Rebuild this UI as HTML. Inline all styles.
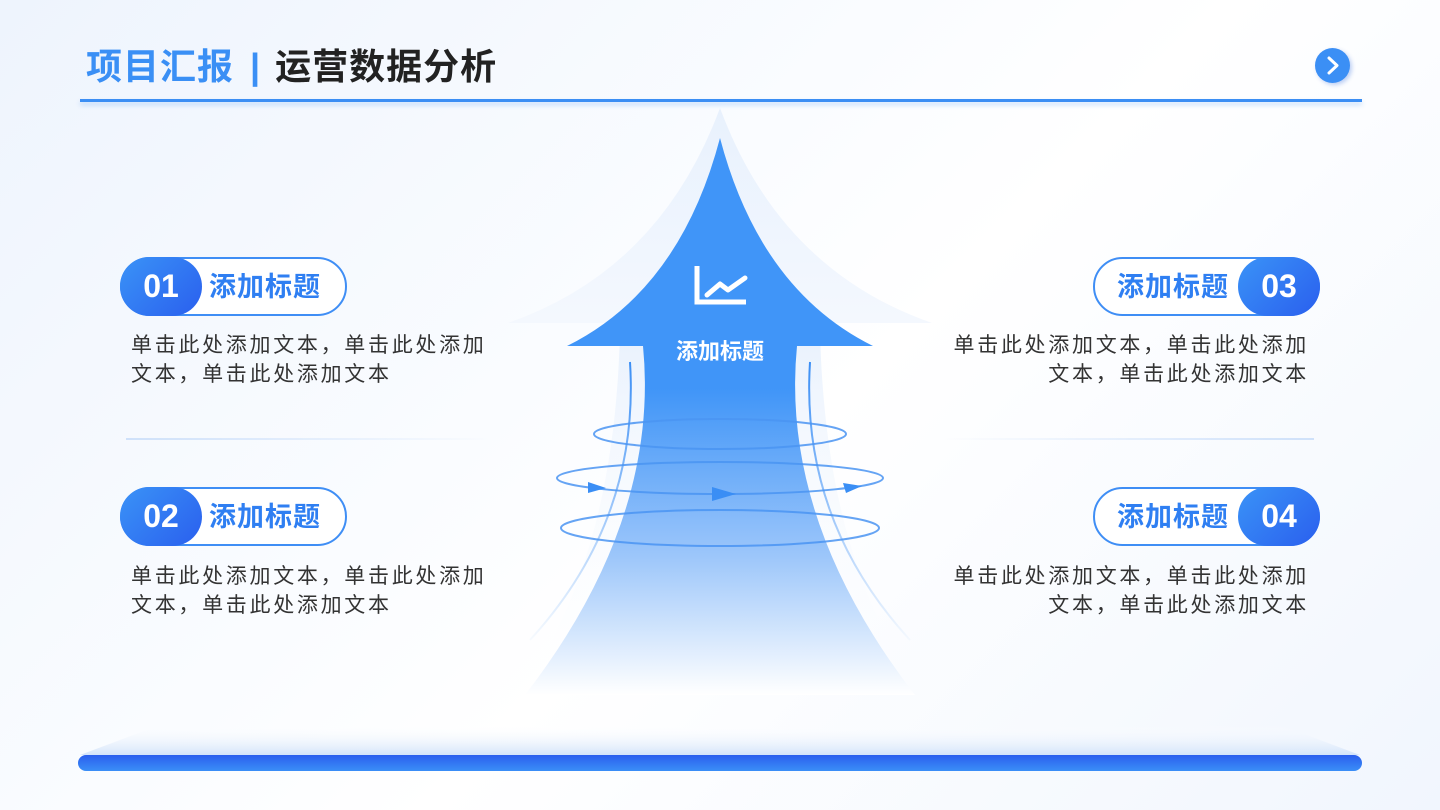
<!DOCTYPE html>
<html><head><meta charset="utf-8"><style>
*{margin:0;padding:0;box-sizing:border-box}
body{width:1440px;height:810px;overflow:hidden;background:linear-gradient(135deg,#eef4fd 0%,#fafcff 40%,#ffffff 55%,#f1f6fe 100%);font-family:"Liberation Sans","Noto Sans CJK SC",sans-serif;position:relative}
.abs{position:absolute}
.title{left:86px;top:44px;font-size:36px;font-weight:bold;letter-spacing:1px;white-space:nowrap;line-height:46px}
.pill{position:absolute;width:227px;height:59px;border:2px solid #3f8ef5;border-radius:30px;background:#fff}
.num{position:absolute;top:-2px;width:82px;height:59px;border-radius:30px;background:linear-gradient(135deg,#3a93f7,#2a5fee);color:#fff;font-size:32px;font-weight:bold;text-align:center;line-height:59px}
.pt{position:absolute;top:0;font-size:27px;font-weight:bold;color:#2f7ff2;line-height:57px;white-space:nowrap;letter-spacing:1px}
.txt{position:absolute;font-size:21px;color:#333;line-height:29px;letter-spacing:2.7px;white-space:nowrap}
</style></head><body>
<div class="abs title"><span style="color:#3a8ff5">项目汇报</span><span style="color:#3a8ff5;margin:0 14px 0 16px">|</span><span style="color:#222">运营数据分析</span></div>
<div class="abs" style="left:80px;top:99px;width:1282px;height:3px;background:#3b8ef4;box-shadow:0 3px 5px rgba(59,142,244,0.3)"></div>
<div class="abs" style="left:1315px;top:48px;width:35px;height:35px;border-radius:50%;background:#3b8ff5;box-shadow:2px 2px 4px rgba(40,100,220,.3)">
<svg width="35" height="35"><path d="M14 10 L22 17.5 L14 25" stroke="#fff" stroke-width="3" fill="none" stroke-linecap="round" stroke-linejoin="round"/></svg></div>

<svg class="abs" style="left:0;top:0" width="1440" height="810">
<defs>
<linearGradient id="sh" x1="0" y1="0" x2="0" y2="1"><stop offset="0" stop-color="#e8f1fd"/><stop offset="1" stop-color="#f4f8fe"/></linearGradient>
<linearGradient id="ar" x1="0" y1="138" x2="0" y2="695" gradientUnits="userSpaceOnUse"><stop offset="0.45" stop-color="#4095f8"/><stop offset="0.75" stop-color="#9cc6fa"/><stop offset="1" stop-color="#ffffff"/></linearGradient>
<linearGradient id="gl" x1="0" y1="340" x2="0" y2="700" gradientUnits="userSpaceOnUse"><stop offset="0" stop-color="#eaf2fd"/><stop offset="1" stop-color="#ffffff" stop-opacity="0"/></linearGradient>
<linearGradient id="ln" x1="0" y1="360" x2="0" y2="650" gradientUnits="userSpaceOnUse"><stop offset="0" stop-color="#3a8ef5"/><stop offset="1" stop-color="#3a8ef5" stop-opacity="0"/></linearGradient>
<linearGradient id="bar" x1="0" y1="0" x2="0" y2="1"><stop offset="0" stop-color="#2a5fee"/><stop offset="1" stop-color="#3a8ff7"/></linearGradient>
<linearGradient id="plat" x1="0" y1="725" x2="0" y2="755" gradientUnits="userSpaceOnUse"><stop offset="0" stop-color="#ffffff" stop-opacity="0"/><stop offset="1" stop-color="#d3e4fa"/></linearGradient>
<linearGradient id="hl" x1="0" y1="0" x2="1" y2="0"><stop offset="0" stop-color="#cfe1fa"/><stop offset="1" stop-color="#cfe1fa" stop-opacity="0"/></linearGradient>
<linearGradient id="hr" x1="1" y1="0" x2="0" y2="0"><stop offset="0" stop-color="#cfe1fa"/><stop offset="1" stop-color="#cfe1fa" stop-opacity="0"/></linearGradient>
</defs>
<rect x="126" y="438" width="370" height="2" fill="url(#hl)"/>
<rect x="944" y="438" width="370" height="2" fill="url(#hr)"/>
<path d="M720 108 Q660 270 508 323 L932 323 Q780 270 720 108 Z" fill="url(#sh)"/>
<path d="M620 330 Q615 560 520 690 L920 690 Q825 560 820 330 Z" fill="url(#gl)"/>
<path d="M720 138 Q680 290 567 346 L643 346 Q660 520 525 695 L915 695 Q780 520 797 346 L873 346 Q760 290 720 138 Z" fill="url(#ar)"/>
<path d="M630 362 Q640 520 530 640" stroke="url(#ln)" stroke-width="2" fill="none"/>
<path d="M810 362 Q800 520 910 640" stroke="url(#ln)" stroke-width="2" fill="none"/>
<ellipse cx="720" cy="434" rx="126" ry="15" fill="none" stroke="#4a94f2" stroke-width="2" opacity=".85"/>
<ellipse cx="720" cy="478" rx="163" ry="16" fill="none" stroke="#4a94f2" stroke-width="2" opacity=".85"/>
<ellipse cx="720" cy="528" rx="159" ry="18" fill="none" stroke="#4a94f2" stroke-width="2" opacity=".85"/>
<path d="M588 482 L606 488 L588 493 Z" fill="#3a8ef5"/>
<path d="M712 487 L736 494 L712 501 Z" fill="#3a8ef5"/>
<path d="M843 483 L862 486 L846 493 Z" fill="#3a8ef5"/>
<path d="M697 266 V302 H746" stroke="#fff" stroke-width="5" fill="none"/>
<path d="M707 295 L720 284 L728 290 L745 278" stroke="#fff" stroke-width="5" fill="none" stroke-linecap="round" stroke-linejoin="round"/>
<text x="720" y="359" text-anchor="middle" font-size="22" font-weight="bold" fill="#fff" font-family="Liberation Sans,Noto Sans CJK SC,sans-serif">添加标题</text>
<path d="M80 755 L160 725 L1280 725 L1360 755 Z" fill="url(#plat)"/>
<rect x="78" y="755" width="1284" height="16" rx="8" fill="url(#bar)"/>
</svg>

<div class="pill" style="left:120px;top:257px"><div class="num" style="left:-2px">01</div><div class="pt" style="left:87px">添加标题</div></div>
<div class="txt" style="left:131px;top:331px">单击此处添加文本，单击此处添加<br>文本，单击此处添加文本</div>
<div class="pill" style="left:120px;top:487px"><div class="num" style="left:-2px">02</div><div class="pt" style="left:87px">添加标题</div></div>
<div class="txt" style="left:131px;top:562px">单击此处添加文本，单击此处添加<br>文本，单击此处添加文本</div>
<div class="pill" style="left:1093px;top:257px"><div class="num" style="right:-2px">03</div><div class="pt" style="left:22px">添加标题</div></div>
<div class="txt" style="right:131px;top:331px;text-align:right">单击此处添加文本，单击此处添加<br>文本，单击此处添加文本</div>
<div class="pill" style="left:1093px;top:487px"><div class="num" style="right:-2px">04</div><div class="pt" style="left:22px">添加标题</div></div>
<div class="txt" style="right:131px;top:562px;text-align:right">单击此处添加文本，单击此处添加<br>文本，单击此处添加文本</div>
</body></html>
